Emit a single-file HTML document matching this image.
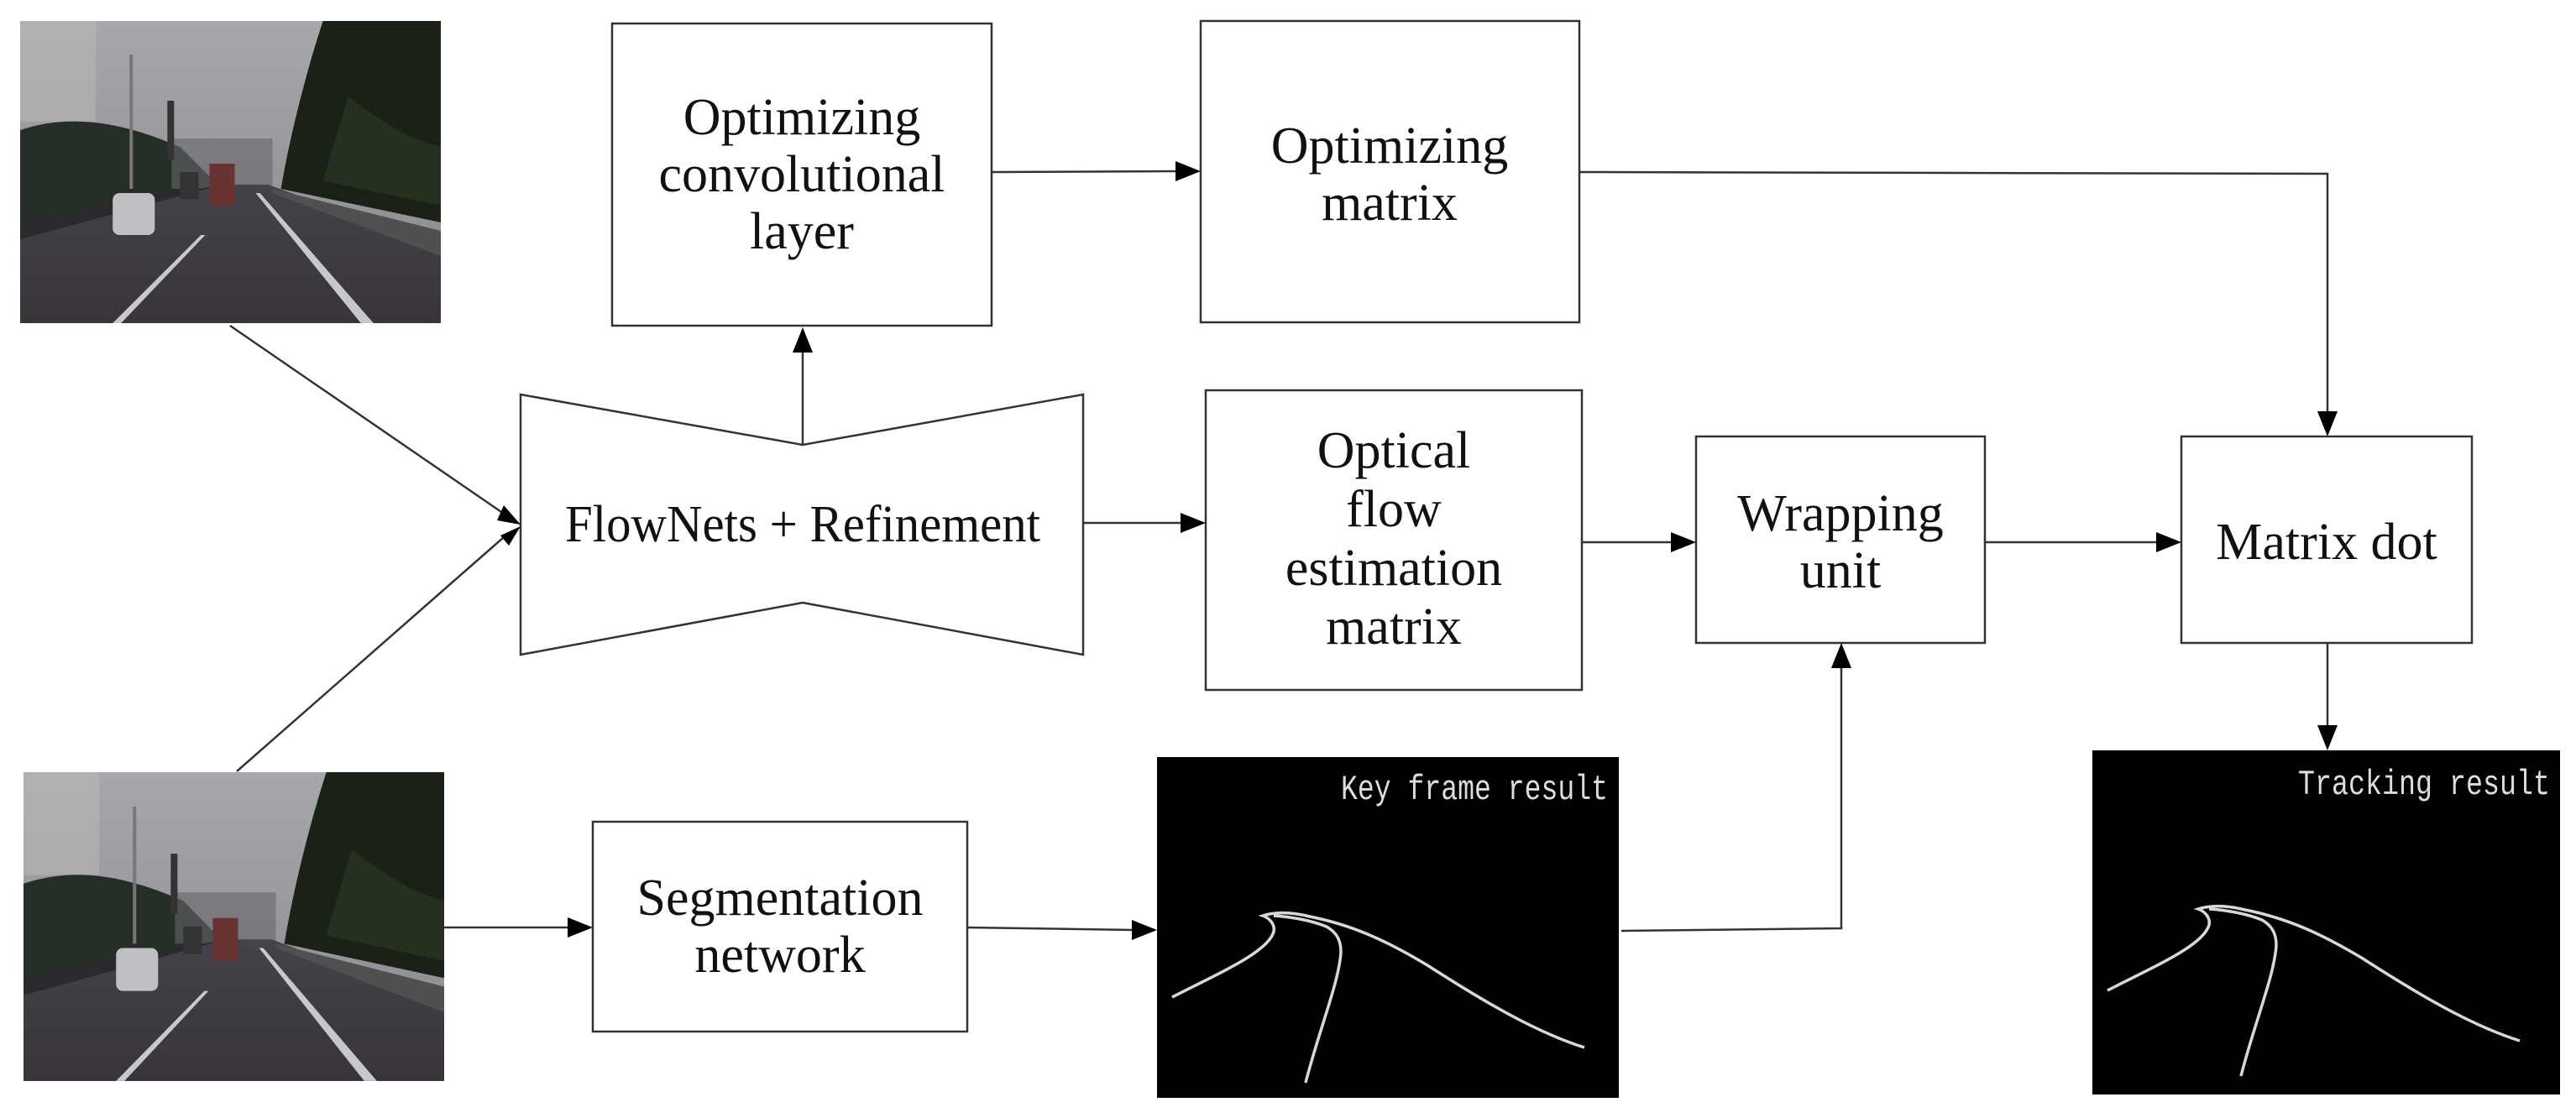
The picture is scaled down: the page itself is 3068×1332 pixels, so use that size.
<!DOCTYPE html>
<html><head><meta charset="utf-8"><style>
html,body{margin:0;padding:0;background:#fff}
svg{display:block}
.t{font-family:"Liberation Serif",serif;font-size:62px;fill:#111;text-anchor:middle}
.m{font-family:"Liberation Mono",monospace;font-size:42px;fill:#ddd}
</style></head><body>
<svg width="3068" height="1332" viewBox="0 0 3068 1332" xmlns="http://www.w3.org/2000/svg">
<defs>
<linearGradient id="sky" x1="0" y1="0" x2="0" y2="1"><stop offset="0" stop-color="#a8a8ac"/><stop offset="1" stop-color="#86868c"/></linearGradient>
<linearGradient id="road" x1="0" y1="0" x2="0" y2="1"><stop offset="0" stop-color="#46424a"/><stop offset="1" stop-color="#38343a"/></linearGradient>
<g id="photo">
<rect x="0" y="0" width="500" height="360" fill="url(#sky)"/>
<rect x="0" y="0" width="90" height="120" fill="#bcbab8" opacity="0.5"/>
<path d="M0,130 C60,110 120,120 190,150 L240,200 L240,240 L0,260 Z" fill="#252d27"/>
<path d="M180,140 L300,140 L300,200 L180,200Z" fill="#66666a" opacity="0.6"/>
<path d="M360,0 L500,0 L500,240 L310,200 C320,140 340,60 360,0Z" fill="#1a2216"/>
<path d="M390,90 C430,120 460,140 500,150 L500,220 L360,190Z" fill="#283623" opacity="0.8"/>
<rect x="130" y="40" width="4" height="160" fill="#777"/>
<rect x="175" y="95" width="8" height="70" fill="#333"/>
<path d="M0,260 L240,195 L295,195 L500,270 L500,360 L0,360Z" fill="url(#road)"/>
<path d="M0,260 L240,195 L0,240Z" fill="#2a2a2e"/>
<path d="M300,200 L500,250 L500,280 L300,205Z" fill="#505050"/>
<path d="M285,205 L420,360 L405,360 L280,205Z" fill="#c8c8ca"/>
<path d="M220,255 L120,360 L110,360 L215,255Z" fill="#c8c8ca"/>
<rect x="225" y="170" width="30" height="50" fill="#6a3230"/>
<rect x="190" y="180" width="22" height="32" fill="#333"/>
<rect x="110" y="205" width="50" height="50" rx="8" fill="#c0c0c4"/>
</g>
<g id="lanes" fill="none" stroke="#d8d8d8" stroke-width="3.5">
<path d="M1396,1188 C1450,1160 1510,1135 1517,1110 C1519,1100 1510,1093 1504,1091 C1520,1086 1540,1087 1560,1092 C1610,1102 1650,1120 1700,1150 C1770,1195 1830,1230 1887,1248"/>
<path d="M1555,1290 C1570,1230 1595,1170 1597,1134 C1597,1118 1590,1110 1580,1104 C1560,1096 1535,1092 1517,1091"/>
</g>
</defs>

<use href="#photo" transform="translate(24,25) scale(1.002,1.0)"/>
<use href="#photo" transform="translate(28,920) scale(1.002,1.022)"/>

<rect x="1378" y="902" width="550" height="406" fill="#000"/>
<text class="m" x="1597" y="952" textLength="318" lengthAdjust="spacingAndGlyphs">Key frame result</text>
<use href="#lanes"/>

<rect x="2492" y="894" width="557" height="410" fill="#000"/>
<text class="m" x="2737" y="946" textLength="300" lengthAdjust="spacingAndGlyphs">Tracking result</text>
<use href="#lanes" transform="translate(1114,-8)"/>

<g fill="none" stroke="#333" stroke-width="2.5">
<rect x="729" y="28" width="452" height="360"/>
<rect x="1430" y="25" width="451" height="359"/>
<rect x="1436" y="465" width="448" height="357"/>
<rect x="2020" y="520" width="344" height="246"/>
<rect x="2598" y="520" width="346" height="246"/>
<rect x="706" y="979" width="446" height="250"/>
<polygon points="620,470 956,530 1290,470 1290,780 956,718 620,780" fill="#fff"/>
<line x1="274" y1="388" x2="600" y2="612"/>
<line x1="282" y1="919" x2="600" y2="640"/>
<line x1="956" y1="530" x2="956" y2="420"/>
<line x1="1181" y1="205" x2="1402" y2="204"/>
<polyline points="1881,205 2772,207 2772,492"/>
<line x1="1290" y1="623" x2="1408" y2="623"/>
<line x1="1884" y1="646" x2="1992" y2="646"/>
<line x1="2364" y1="646" x2="2570" y2="646"/>
<line x1="2772" y1="766" x2="2772" y2="866"/>
<line x1="529" y1="1105" x2="678" y2="1105"/>
<line x1="1152" y1="1105" x2="1350" y2="1108"/>
<polyline points="1931,1109 2193,1106 2193,794"/>
</g>
<g fill="#000">
<polygon points="620,625 592,620 600,602"/>
<polygon points="620,627 596,638 606,650"/>
<polygon points="956,390 944,420 968,420"/>
<polygon points="1430,204 1400,192 1400,216"/>
<polygon points="2772,520 2760,490 2784,490"/>
<polygon points="1436,623 1406,611 1406,635"/>
<polygon points="2020,646 1990,634 1990,658"/>
<polygon points="2598,646 2568,634 2568,658"/>
<polygon points="2772,894 2760,864 2784,864"/>
<polygon points="706,1105 676,1093 676,1117"/>
<polygon points="1378,1108 1348,1096 1348,1120"/>
<polygon points="2193,766 2181,796 2205,796"/>
</g>

<text class="t" x="955" y="160">Optimizing</text>
<text class="t" x="955" y="228">convolutional</text>
<text class="t" x="955" y="296">layer</text>
<text class="t" x="1655" y="194">Optimizing</text>
<text class="t" x="1655" y="262">matrix</text>
<text class="t" x="956" y="645" textLength="566" lengthAdjust="spacingAndGlyphs">FlowNets + Refinement</text>
<text class="t" x="1660" y="557">Optical</text>
<text class="t" x="1660" y="627">flow</text>
<text class="t" x="1660" y="697">estimation</text>
<text class="t" x="1660" y="767">matrix</text>
<text class="t" x="2192" y="632">Wrapping</text>
<text class="t" x="2192" y="700">unit</text>
<text class="t" x="2771" y="666">Matrix dot</text>
<text class="t" x="929" y="1090">Segmentation</text>
<text class="t" x="929" y="1158">network</text>
</svg>
</body></html>
